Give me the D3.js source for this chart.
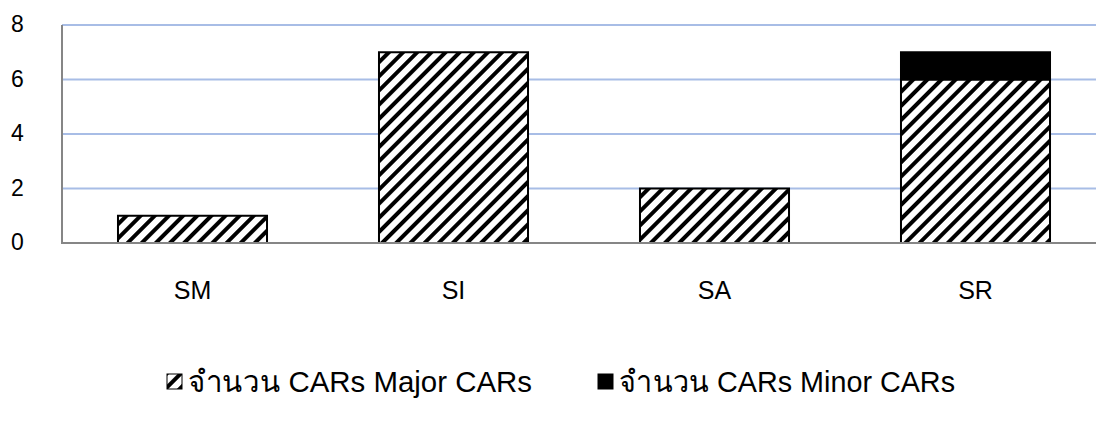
<!DOCTYPE html>
<html>
<head>
<meta charset="utf-8">
<script src="https://cdn.jsdelivr.net/npm/d3@7"></script>
<style>
  html, body { margin: 0; padding: 0; background: #fff; }
  svg { display: block; font-family: "Liberation Sans", Arial, sans-serif; }
</style>
</head>
<body>
<svg id="chart" width="1096" height="425"></svg>
<script>
// Units per department: major and minor corrective action requests
const categories = ["SM", "SI", "SA", "SR"];
const majorCARs = [1, 7, 2, 6];
const minorCARs = [0, 0, 0, 1];
const yTicks = [0, 2, 4, 6, 8];
const seriesNames = ["จำนวน CARs Major CARs", "จำนวน CARs Minor CARs"];

const svg = d3.select("#chart");
const plotLeft = 62, plotRight = 1106, plotTop = 25, plotBottom = 243;

const x = d3.scaleBand().domain(categories).range([plotLeft, plotRight]).padding(0);
const y = d3.scaleLinear().domain([0, 8]).range([plotBottom, plotTop]);
const barW = x.bandwidth() * 0.571;

// Diagonal hatch fill
const defs = svg.append("defs");
const pat = defs.append("pattern")
  .attr("id", "hatch")
  .attr("patternUnits", "userSpaceOnUse")
  .attr("width", 10).attr("height", 10)
  .attr("patternTransform", "rotate(45)");
pat.append("rect").attr("width", 10).attr("height", 10).attr("fill", "#fff");
pat.append("rect").attr("x", 0).attr("y", 0).attr("width", 4).attr("height", 10).attr("fill", "#000");

// Gridlines
svg.append("g").selectAll("line")
  .data(yTicks.filter(d => d > 0))
  .join("line")
  .attr("x1", plotLeft).attr("x2", 1096)
  .attr("y1", d => y(d)).attr("y2", d => y(d))
  .attr("stroke", "#a8bde6").attr("stroke-width", 2);

// Y tick labels
svg.append("g").selectAll("text")
  .data(yTicks)
  .join("text")
  .attr("x", 11).attr("y", d => y(d) - 1)
  .attr("dominant-baseline", "central")
  .attr("font-size", 23).attr("fill", "#000")
  .text(d => d);

// Stacked data
const rows = categories.map((c, i) => ({ cat: c, major: majorCARs[i], minor: minorCARs[i] }));
const stack = d3.stack().keys(["major", "minor"])(rows);
const fills = ["url(#hatch)", "#000"];

const bars = svg.append("g");
stack.forEach((layer, li) => {
  bars.append("g").selectAll("rect")
    .data(layer.filter(d => d[1] - d[0] > 0))
    .join("rect")
    .attr("x", d => x(d.data.cat) + (x.bandwidth() - barW) / 2)
    .attr("y", d => y(d[1]))
    .attr("width", barW)
    .attr("height", d => y(d[0]) - y(d[1]))
    .attr("fill", fills[li])
    .attr("stroke", "#000").attr("stroke-width", 2);
});

// Axes lines
svg.append("line")
  .attr("x1", plotLeft).attr("x2", plotLeft).attr("y1", plotTop).attr("y2", plotBottom)
  .attr("stroke", "#868686").attr("stroke-width", 2);
svg.append("line")
  .attr("x1", plotLeft - 1).attr("x2", 1096).attr("y1", plotBottom).attr("y2", plotBottom)
  .attr("stroke", "#868686").attr("stroke-width", 2);

// Category labels
svg.append("g").selectAll("text")
  .data(categories)
  .join("text")
  .attr("x", d => x(d) + x.bandwidth() / 2)
  .attr("y", 299)
  .attr("text-anchor", "middle")
  .attr("font-size", 25).attr("fill", "#000")
  .text(d => d);

// Legend
const legend = svg.append("g");
const legendX = [167, 598];
const legendLen = [344, 336];
seriesNames.forEach((name, i) => {
  legend.append("rect")
    .attr("x", legendX[i]).attr("y", 374)
    .attr("width", 15).attr("height", 15)
    .attr("fill", fills[i])
    .attr("stroke", "#000").attr("stroke-width", 1);
  legend.append("text")
    .attr("x", legendX[i] + 21).attr("y", 392)
    .attr("font-size", 30).attr("fill", "#000")
    .attr("textLength", legendLen[i])
    .attr("lengthAdjust", "spacingAndGlyphs")
    .text(name);
});
</script>
</body>
</html>
